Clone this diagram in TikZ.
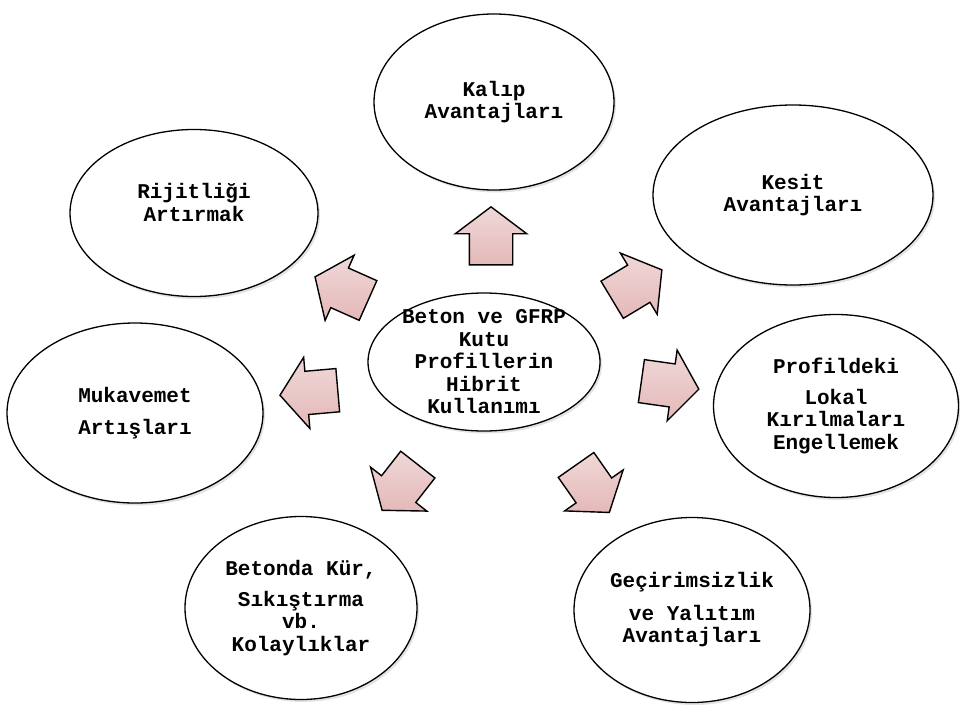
\documentclass[tikz,border=0pt]{standalone}
\usepackage{fontspec}
\newfontfamily\diafont{Liberation Mono}
\usepackage{tikz}
\usetikzlibrary{shapes.geometric,shapes.arrows,shadows}
\definecolor{arrpink}{RGB}{228,184,184}

\begin{document}
\begin{tikzpicture}[x=1pt,y=-1pt,
  bub/.style={ellipse,draw,line width=1.3pt,fill=white,align=center,inner sep=0pt,
    font=\diafont\bfseries\fontsize{21}{22.5}\selectfont,
    drop shadow={shadow xshift=2pt,shadow yshift=-2.5pt,opacity=0.22}},
  hub/.style={bub,inner ysep=-9pt},
  blk/.style={single arrow,draw,line width=1.4pt,minimum height=58pt,minimum width=70pt,
    inner sep=0pt,inner ysep=21pt,single arrow head extend=14pt,single arrow tip angle=106,
    top color=arrpink!55!white,bottom color=arrpink}]
\useasboundingbox (0,0) rectangle (960,704);
% centre
\node[hub,minimum width=232pt,minimum height=138pt] (hibrit) at (484,362)
  {Beton ve GFRP\\Kutu\\Profillerin\\Hibrit\\Kullanımı};
% outer ellipses
\node[bub,minimum width=240pt,minimum height=176pt] (kalip) at (494,102) {Kalıp\\Avantajları};
\node[bub,minimum width=248pt,minimum height=167pt] (rijit) at (194,213) {Rijitliği\\Artırmak\\[-1pt]};
\node[bub,minimum width=280pt,minimum height=180pt] (kesit) at (793,195) {Kesit\\Avantajları};
\node[bub,minimum width=256pt,minimum height=180pt] (mukav) at (135,413) {Mukavemet\\[10pt]Artışları};
\node[bub,minimum width=245pt,minimum height=183pt] (profil) at (836,406)
  {Profildeki\\[8pt]Lokal\\Kırılmaları\\Engellemek};
\node[bub,minimum width=232pt,minimum height=183pt] (beton) at (301,608)
  {Betonda Kür,\\[8pt]Sıkıştırma\\vb.\\Kolaylıklar};
\node[bub,minimum width=236pt,minimum height=185pt] (gecir) at (692,610)
  {Geçirimsizlik\\[10pt]ve Yalıtım\\Avantajları};
% block arrows pointing outwards
\node[blk,rotate=90] (a-kalip) at (491,244) {};
\node[blk,rotate=31] (a-kesit) at (630,289) {};
\node[blk,rotate=156] (a-rijit) at (349,292) {};
\node[blk,rotate=-8] (a-profil) at (662,384) {};
\node[blk,rotate=185] (a-mukav) at (317,392) {};
\node[blk,rotate=232] (a-beton) at (405,481) {};
\node[blk,rotate=-55] (a-gecir) at (588,482) {};
\end{tikzpicture}
\end{document}
